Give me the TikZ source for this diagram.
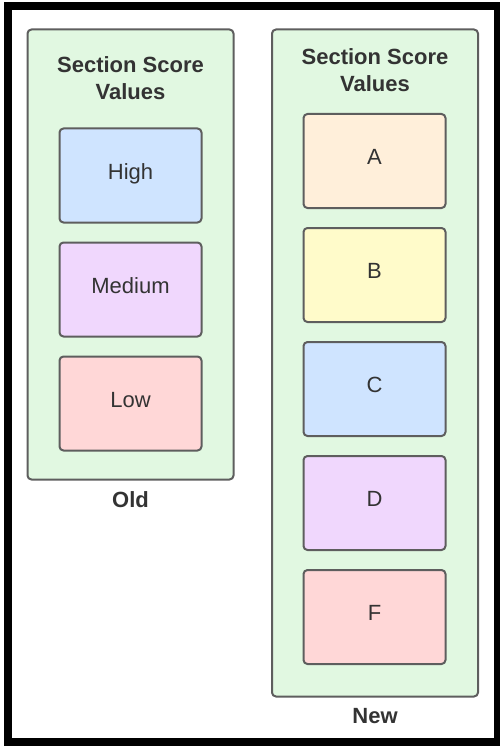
\documentclass[tikz,border=0pt]{standalone}
\usepackage{fontspec}
\setmainfont{Liberation Sans}
\usepackage{tikz}
\usetikzlibrary{positioning}
\definecolor{EdgeGray}{HTML}{5E5E5E}
\definecolor{TextGray}{HTML}{333333}
\definecolor{PanelGreen}{HTML}{E1F8E1}
\definecolor{ScoreBlue}{HTML}{CFE4FF}
\definecolor{ScoreViolet}{HTML}{F0D7FD}
\definecolor{ScoreRed}{HTML}{FFD7D7}
\definecolor{ScoreOrange}{HTML}{FFEFDA}
\definecolor{ScoreYellow}{HTML}{FFFBCA}

\begin{document}
\begin{tikzpicture}[x=1pt,y=-1pt, node distance=18pt, every node/.style={font=\fontsize{22}{27}\selectfont,text=TextGray,inner sep=0pt}, panel/.style={draw=EdgeGray,line width=2pt,rounded corners=4pt,fill=PanelGreen,minimum width=206pt}, scorebox/.style={draw=EdgeGray,line width=2pt,rounded corners=4pt,minimum width=142pt,minimum height=94pt,text height=15pt,text depth=8pt}, heading/.style={font=\fontsize{22}{27}\selectfont\bfseries,align=center}]
\useasboundingbox (0,0) rectangle (499,746);
\draw[line width=8pt] (8,6) rectangle (498,742);
% old scale
\node[panel,minimum height=450pt] (oldpanel) at (130.5,254.5) {};
\node[heading] (oldtitle) at (130.5,78.5) {Section Score\\Values};
\node[scorebox,fill=ScoreBlue] (high) at (130.5,175.5) {High};
\node[scorebox,fill=ScoreViolet,below=of high] (medium) {Medium};
\node[scorebox,fill=ScoreRed,below=of medium] (low) {Low};
\node[heading,below=11pt of oldpanel] (oldlabel) {Old};
% new scale
\node[panel,minimum height=667pt] (newpanel) at (375,363) {};
\node[heading] (newtitle) at (375,70.5) {Section Score\\Values};
\node[scorebox,fill=ScoreOrange] (gradea) at (374.5,161) {A};
\node[scorebox,fill=ScoreYellow,below=of gradea] (gradeb) {B};
\node[scorebox,fill=ScoreBlue,below=of gradeb] (gradec) {C};
\node[scorebox,fill=ScoreViolet,below=of gradec] (graded) {D};
\node[scorebox,fill=ScoreRed,below=of graded] (gradef) {F};
\node[heading,below=11pt of newpanel] (newlabel) {New};
\end{tikzpicture}
\end{document}
